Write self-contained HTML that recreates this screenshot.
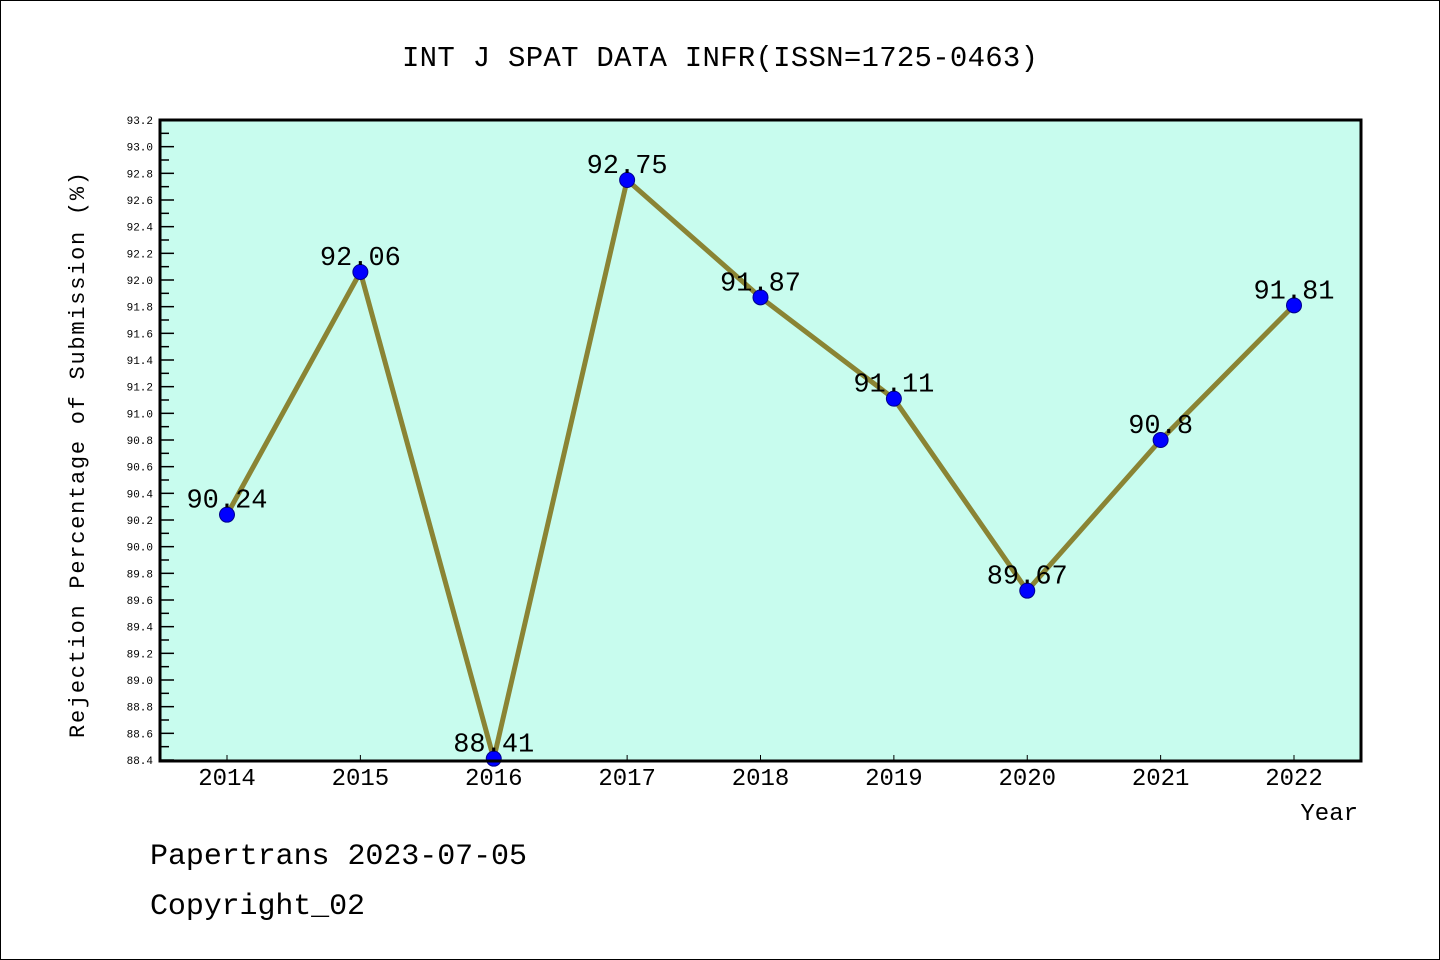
<!DOCTYPE html>
<html><head><meta charset="utf-8"><style>
html,body{margin:0;padding:0;background:#fff}
svg{display:block}
text{font-family:"WenQuanYi Zen Hei","Liberation Mono",monospace}
</style></head><body>
<svg id="chart" width="1440" height="960" xmlns="http://www.w3.org/2000/svg">
<rect x="0.5" y="0.5" width="1439" height="959" fill="#fff" stroke="#000" stroke-width="1"/>
<text x="720" y="66" font-size="29" text-anchor="middle" textLength="636">INT J SPAT DATA INFR(ISSN=1725-0463)</text>
<rect x="160" y="120" width="1201" height="641" fill="#c8fcee"/>
<g id="yaxis"></g>
<g id="xaxis"></g>
<g id="series"></g>
<rect x="160" y="120" width="1201" height="641" fill="none" stroke="#000" stroke-width="3"/>
<text transform="translate(84,455) rotate(-90)" font-size="22" text-anchor="middle" textLength="566">Rejection Percentage of Submission (%)</text>
<text x="1358" y="820" font-size="24" text-anchor="end">Year</text>
<text x="150" y="864" font-size="30" textLength="377">Papertrans 2023-07-05</text>
<text x="150" y="914" font-size="30" textLength="215">Copyright_02</text>
</svg>
<script>
const years = ["2014","2015","2016","2017","2018","2019","2020","2021","2022"];
const values = [90.24,92.06,88.41,92.75,91.87,91.11,89.67,90.8,91.81];
const valueLabels = ["90.24","92.06","88.41","92.75","91.87","91.11","89.67","90.8","91.81"];
const yMin = 88.4, yMax = 93.2;
const NS = "http://www.w3.org/2000/svg";
const px0 = 227, px1 = 1294, py0 = 760, py1 = 120;
function xs(i){ return px0 + (px1 - px0) * i / (years.length - 1); }
function ys(v){ return py0 - (v - yMin) / (yMax - yMin) * (py0 - py1); }
function mk(tag, attrs, parent){ const e = document.createElementNS(NS, tag); for (const k in attrs) e.setAttribute(k, attrs[k]); parent.appendChild(e); return e; }
const ya = document.getElementById('yaxis');
const nMinor = Math.round((yMax - yMin) / 0.1);
for (let k = 0; k <= nMinor; k++) {
  const v = yMin + k * 0.1, y = ys(v);
  const major = k % 2 === 0;
  const t = mk('line', {x1:160, x2:160 + (major ? 14 : 9), y1:y, y2:y, stroke:'#000', 'stroke-width':1.5}, ya);
  
  
  if (major) {
    const lb = mk('text', {x:153, y:y + 4, 'font-size':11, 'text-anchor':'end'}, ya);
    
    
    lb.textContent = v.toFixed(1);
  }
}
const xa = document.getElementById('xaxis');
years.forEach((yr, i) => {
  const x = xs(i);
  const t = mk('line', {x1:x, x2:x, y1:761, y2:755, stroke:'#000', 'stroke-width':1}, xa);
  
  
  const lb = mk('text', {x:x, y:785, 'font-size':24, 'text-anchor':'middle'}, xa);
  
  
  lb.textContent = yr;
});
const sg = document.getElementById('series');
const pts = values.map((v, i) => xs(i) + ',' + ys(v)).join(' ');
const line = mk('polyline', {points:pts, fill:'none', stroke:'#8a8434', 'stroke-width':5, 'stroke-linejoin':'round'}, sg);


values.forEach((v, i) => {
  const c = mk('circle', {cx:xs(i), cy:ys(v), r:7.5, fill:'#0000ff', stroke:'#00008b', 'stroke-width':1}, sg);
  
  
  const lb = mk('text', {x:xs(i), y:ys(v) - 7, 'font-size':27, 'text-anchor':'middle'}, sg);
  
  
  lb.textContent = valueLabels[i];
});
</script>
</body></html>
